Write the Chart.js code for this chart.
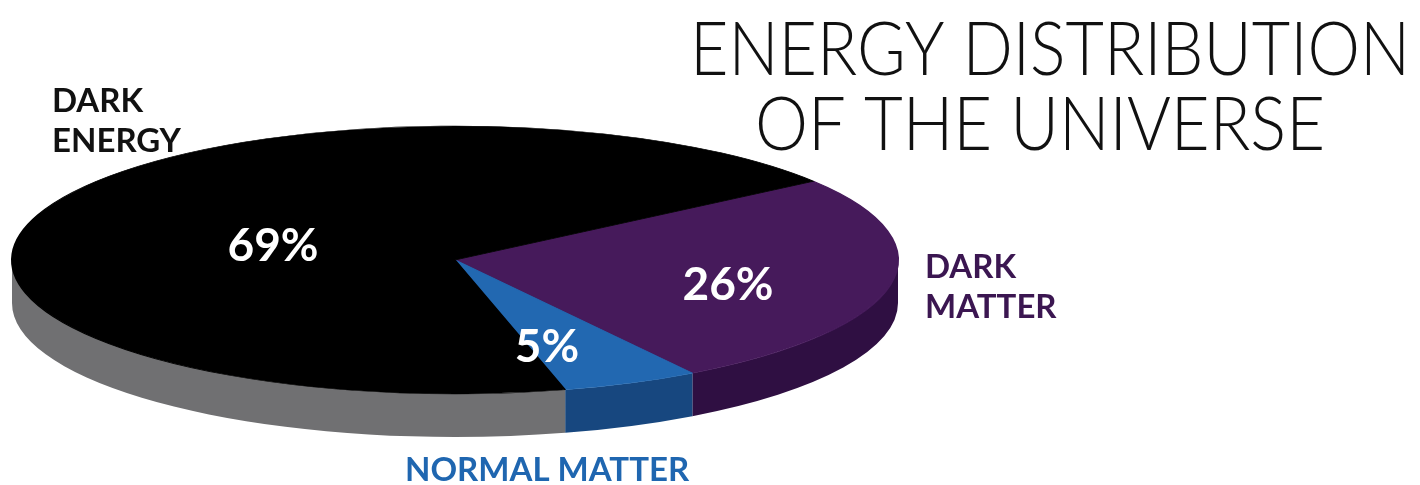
<!DOCTYPE html>
<html>
<head>
<meta charset="utf-8">
<script src="https://cdn.jsdelivr.net/npm/chart.js@4/dist/chart.umd.min.js"></script>
<style>
  html, body { margin: 0; padding: 0; background: #fff; }
  #wrap { width: 1420px; height: 485px; position: relative; }
</style>
</head>
<body>
<div id="wrap"><canvas id="universeChart"></canvas></div>
<script>
const categories = ['DARK MATTER', 'NORMAL MATTER', 'DARK ENERGY'];
const shares = [26, 5, 69];
const valueLabels = ['26%', '5%', '69%'];
const topColors = ['#461a5b', '#2268b1', '#000000'];
const sideColors = ['#2f0f42', '#17477f', '#707072'];
const nameColors = ['#3b1651', '#1f66b0', '#111111'];
const titleLines = ['ENERGY DISTRIBUTION', 'OF THE UNIVERSE'];

// the flat pie gets squashed into this ellipse, depth = thickness of the disc
const disc = { cx: 455, cy: 260, rx: 443, ry: 134, depth: 43 };

// where the texts sit (centre x, baseline y)
const valueSpots = [[728, 300], [547, 362], [273, 261]];
const nameSpots = [
    { x: 925, y: 278, lines: ['DARK', 'MATTER'] },
    { x: 405, y: 481, lines: ['NORMAL MATTER'] },
    { x: 52, y: 112, lines: ['DARK', 'ENERGY'] }
];
// title lines: centre x, baseline y, drawn width
const titleSpots = [[1050, 75, 720], [1040, 150, 570]];

const tiltPlugin = {
    id: 'tilt',
    beforeDatasetsDraw(chart) {
        const ctx = chart.ctx;
        const arcs = chart.getDatasetMeta(0).data;
        // side walls, only the front half of the disc (0..PI) shows
        arcs.forEach((arc, i) => {
            const { startAngle, endAngle } = arc.getProps(['startAngle', 'endAngle']);
            for (let k = -1; k <= 2; k++) {
                const lo = Math.max(startAngle, 2 * Math.PI * k);
                const hi = Math.min(endAngle, 2 * Math.PI * k + Math.PI);
                if (hi <= lo) continue;
                ctx.beginPath();
                ctx.ellipse(disc.cx, disc.cy, disc.rx, disc.ry, 0, lo, hi);
                ctx.ellipse(disc.cx, disc.cy + disc.depth, disc.rx, disc.ry, 0, hi, lo, true);
                ctx.closePath();
                ctx.fillStyle = sideColors[i];
                ctx.fill();
            }
        });
    },
    beforeDatasetDraw(chart) {
        const ctx = chart.ctx;
        const arc = chart.getDatasetMeta(0).data[0];
        const r = arc.outerRadius;
        ctx.save();
        ctx.translate(disc.cx, disc.cy);
        ctx.scale(disc.rx / r, disc.ry / r);
        ctx.translate(-arc.x, -arc.y);
    },
    afterDatasetDraw(chart) {
        chart.ctx.restore();
    },
    afterDraw(chart) {
        const ctx = chart.ctx;
        ctx.save();
        ctx.textBaseline = 'alphabetic';

        ctx.fillStyle = '#ffffff';
        ctx.textAlign = 'center';
        ctx.font = 'bold 46px Lato';
        valueLabels.forEach((t, i) => ctx.fillText(t, valueSpots[i][0], valueSpots[i][1]));

        ctx.font = 'bold 33px Lato';
        ctx.textAlign = 'left';
        nameSpots.forEach((n, i) => {
            ctx.fillStyle = nameColors[i];
            n.lines.forEach((line, j) => ctx.fillText(line, n.x, n.y + j * 40));
        });

        // title is a narrow light face, squeeze Lato Light to the same width
        ctx.fillStyle = '#111111';
        ctx.textAlign = 'center';
        ctx.font = '300 74px Lato';
        titleLines.forEach((t, i) => {
            const [x, y, w] = titleSpots[i];
            const sx = w / ctx.measureText(t).width;
            ctx.save();
            ctx.translate(x, y);
            ctx.scale(sx, 1);
            ctx.fillText(t, 0, 0);
            ctx.restore();
        });
        ctx.restore();
    }
};

const ctx = document.getElementById('universeChart').getContext('2d');
const universeChart = new Chart(ctx, {
    type: 'pie',
    data: {
        labels: categories,
        datasets: [
            {
                data: shares,
                backgroundColor: topColors,
                borderColor: topColors,
                borderWidth: 1,
                clip: false
            }
        ]
    },
    options: {
        responsive: true,
        maintainAspectRatio: false,
        animation: false,
        events: [],
        rotation: 54,
        layout: {
            padding: { left: 0, right: 510, top: 33, bottom: 0 }
        },
        plugins: {
            legend: { display: false },
            tooltip: { enabled: false },
            title: { display: false }
        }
    },
    plugins: [tiltPlugin]
});
</script>
</body>
</html>
